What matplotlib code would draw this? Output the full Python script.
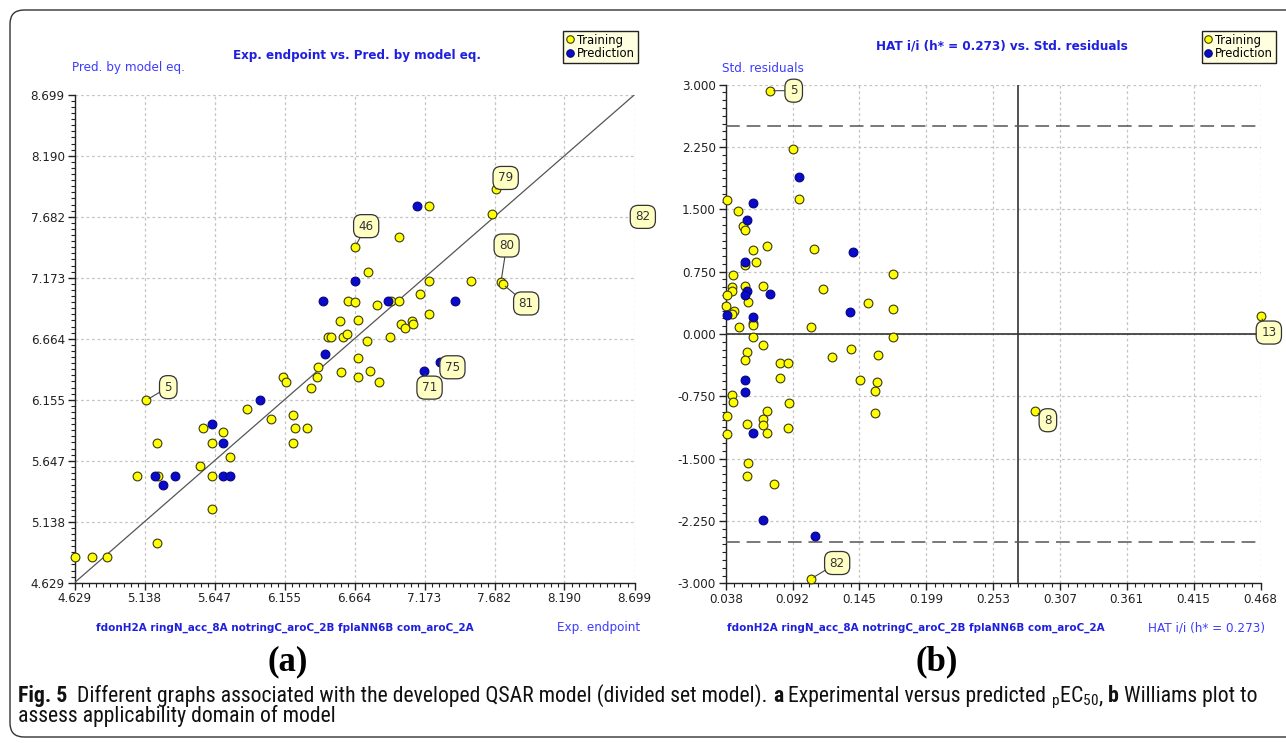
import numpy as np
import matplotlib
matplotlib.use("Agg")
import matplotlib.pyplot as plt
from matplotlib.patches import FancyBboxPatch
from matplotlib.lines import Line2D
from matplotlib.ticker import FixedLocator

# ------------------------------------------------------------------ data
# Panel (a): experimental endpoint vs predicted by model equation
exp_train = [5.149, 5.226, 5.081, 5.234, 5.226, 4.629, 4.758, 4.867, 5.541, 5.561,
             5.626, 5.626, 5.626, 5.708, 5.759, 5.885, 6.057, 6.142, 6.168, 6.219,
             6.234, 6.219, 6.321, 6.350, 6.389, 6.401, 6.565, 6.775, 6.692, 6.842,
             6.692, 6.473, 6.491, 6.583, 6.610, 6.757, 6.924, 6.559, 6.692, 7.000,
             7.033, 7.084, 7.087, 7.208, 6.825, 6.619, 6.668, 6.929, 6.990, 7.142,
             6.764, 7.208, 7.509, 7.729, 7.740, 6.668, 6.990, 7.208, 7.666, 7.692,
             8.699]
pred_train = [6.150, 5.792, 5.521, 5.521, 4.958, 4.846, 4.846, 4.846, 5.602, 5.917,
              5.792, 5.521, 5.244, 5.883, 5.675, 6.078, 5.994, 6.342, 6.305, 6.028,
              5.917, 5.792, 5.917, 6.250, 6.342, 6.430, 6.386, 6.397, 6.342, 6.305,
              6.503, 6.676, 6.676, 6.676, 6.703, 6.645, 6.676, 6.809, 6.820, 6.784,
              6.756, 6.812, 6.784, 6.872, 6.943, 6.981, 6.970, 6.981, 6.981, 7.034,
              7.223, 7.145, 7.145, 7.140, 7.120, 7.429, 7.510, 7.771, 7.707, 7.912,
              7.680]
exp_test = [5.214, 5.274, 5.359, 5.626, 5.708, 5.708, 5.759, 5.977, 6.450, 6.433,
            6.668, 6.905, 7.392, 7.169, 7.285, 7.116]
pred_test = [5.521, 5.441, 5.521, 5.955, 5.792, 5.521, 5.521, 6.150, 6.534, 6.981,
             7.145, 6.981, 6.981, 6.395, 6.472, 7.771]

# compound ids shown as call-outs: (id, series, index into that series)
a_callouts = [("5", "train", 0), ("46", "train", 55), ("79", "train", 59),
              ("80", "train", 53), ("81", "train", 54), ("82", "train", 60),
              ("71", "test", 13), ("75", "test", 14)]

# Panel (b): Williams plot (leverage vs standardized residuals)
hat_train = [0.0737, 0.0922, 0.0970, 0.0388, 0.0481, 0.0519, 0.0535, 0.0710, 0.1088, 0.0597,
             0.0535, 0.0624, 0.0441, 0.1724, 0.0428, 0.0428, 0.0535, 0.0683, 0.0388, 0.0562,
             0.1165, 0.1528, 0.1724, 0.0380, 0.0449, 0.0428, 0.0597, 0.0597, 0.0489, 0.1064,
             0.1724, 0.0597, 0.0683, 0.0554, 0.0535, 0.0817, 0.0879, 0.1238, 0.1386, 0.1608,
             0.0817, 0.1463, 0.1600, 0.1581, 0.1581, 0.0433, 0.0441, 0.0891, 0.0388, 0.0710,
             0.0683, 0.0678, 0.0554, 0.0879, 0.0388, 0.0710, 0.0559, 0.0551, 0.0771, 0.1064,
             0.2870, 0.4680]
res_train = [2.928, 2.230, 1.628, 1.616, 1.484, 1.300, 1.255, 1.063, 1.023, 1.007,
             0.826, 0.866, 0.710, 0.722, 0.569, 0.521, 0.578, 0.578, 0.469, 0.389,
             0.538, 0.377, 0.297, 0.337, 0.273, 0.241, 0.136, 0.108, 0.088, 0.088,
             -0.040, -0.032, -0.132, -0.213, -0.317, -0.345, -0.345, -0.277, -0.184, -0.249,
             -0.529, -0.557, -0.581, -0.690, -0.951, -0.730, -0.818, -0.830, -0.991, -0.923,
             -1.019, -1.095, -1.079, -1.135, -1.200, -1.188, -1.556, -1.712, -1.801, -2.948,
             -0.929, 0.218]
hat_test = [0.0970, 0.0597, 0.0554, 0.1407, 0.0535, 0.0554, 0.0535, 0.0739, 0.1380, 0.0388,
            0.0597, 0.0535, 0.0535, 0.0597, 0.0678, 0.1096]
res_test = [1.889, 1.576, 1.368, 0.983, 0.866, 0.521, 0.469, 0.485, 0.261, 0.229,
            0.201, -0.557, -0.702, -1.188, -2.242, -2.427]
b_callouts = [("5", "train", 0), ("82", "train", 59), ("8", "train", 60), ("13", "train", 61)]

h_star = 0.273
res_limit = 2.5

a_range = (4.629, 8.699)
a_ticklabels = ["4.629", "5.138", "5.647", "6.155", "6.664", "7.173", "7.682", "8.190", "8.699"]
b_xrange = (0.038, 0.468)
b_xticklabels = ["0.038", "0.092", "0.145", "0.199", "0.253", "0.307", "0.361", "0.415", "0.468"]
b_yrange = (-3.0, 3.0)
b_yticklabels = ["-3.000", "-2.250", "-1.500", "-0.750", "0.000", "0.750", "1.500", "2.250", "3.000"]

descriptors = "fdonH2A ringN_acc_8A notringC_aroC_2B fplaNN6B com_aroC_2A"
title_a = "Exp. endpoint vs. Pred. by model eq."
title_b = "HAT i/i (h* = 0.273) vs. Std. residuals"
ylabel_a, xlabel_a = "Pred. by model eq.", "Exp. endpoint"
ylabel_b, xlabel_b = "Std. residuals", "HAT i/i (h* = 0.273)"
legend_labels = ["Training", "Prediction"]

# ------------------------------------------------------------------ style
plt.rcParams["font.family"] = ["DejaVu Sans"]
plt.rcParams["font.stretch"] = "condensed"
plt.rcParams["mathtext.fontset"] = "custom"
plt.rcParams["mathtext.rm"] = "Roboto Condensed"
plt.rcParams["mathtext.it"] = "Roboto Condensed:italic"
plt.rcParams["mathtext.bf"] = "Roboto Condensed:bold"

W, H = 1286, 743
fig = plt.figure(figsize=(W / 100, H / 100), dpi=100)
fig.patch.set_facecolor("white")
renderer = fig.canvas.get_renderer()

YEL, YEL_E = "#FFFF00", "#3a3a10"
BLU, BLU_E = "#0a0acc", "#05057a"
TITLE_C = "#1f1fe0"
LAB_C = "#3c3cff"


def rect(x0, y0, x1, y1):
    return [x0 / W, 1 - y1 / H, (x1 - x0) / W, (y1 - y0) / H]


def fit_text(x, y, s, width, ha="center", size0=10, **kw):
    t = fig.text(x / W, 1 - y / H, s, ha=ha, va="center", fontsize=size0, **kw)
    w = t.get_window_extent(renderer).width
    t.set_fontsize(size0 * width / w)
    return t


def style_axes(ax, xr, yr, xlabels, ylabels, xminor_n, yminor_n):
    xt = np.linspace(xr[0], xr[1], len(xlabels))
    yt = np.linspace(yr[0], yr[1], len(ylabels))
    ax.set_xlim(*xr)
    ax.set_ylim(*yr)
    ax.set_xticks(xt)
    ax.set_xticklabels(xlabels)
    ax.set_yticks(yt)
    ax.set_yticklabels(ylabels)
    ax.xaxis.set_minor_locator(FixedLocator(np.linspace(xr[0], xr[1], (len(xlabels) - 1) * xminor_n + 1)))
    ax.yaxis.set_minor_locator(FixedLocator(np.linspace(yr[0], yr[1], (len(ylabels) - 1) * yminor_n + 1)))
    for s in ("top", "right"):
        ax.spines[s].set_visible(False)
    for s in ("left", "bottom"):
        ax.spines[s].set_linewidth(1.0)
        ax.spines[s].set_color("#222222")
    ax.grid(True, which="major", color="#c4c4c4", linestyle=(0, (2.2, 2.2)), linewidth=0.9)
    ax.tick_params(which="major", length=5, width=1.0, direction="out", labelsize=9.5,
                   colors="#222222", pad=2)
    ax.tick_params(which="minor", length=2.6, width=0.8, direction="out", colors="#222222")
    ax.set_axisbelow(True)


def callout(ax, x, y, txt, off):
    ax.annotate(txt, xy=(x, y), xytext=off, textcoords="offset points",
                ha="center", va="center", fontsize=9.5, color="#333333",
                bbox=dict(boxstyle="round,pad=0.38,rounding_size=0.6", fc="#FFFFC4",
                          ec="#333333", lw=0.9),
                arrowprops=dict(arrowstyle="-", color="#444444", lw=0.8, shrinkA=0, shrinkB=2.5),
                annotation_clip=False, zorder=8)


def scatter(ax, x, y, fc, ec):
    ax.scatter(x, y, s=40, facecolor=fc, edgecolor=ec, linewidth=0.8, zorder=4, clip_on=False)


# ------------------------------------------------------------------ panel (a)
axA = fig.add_axes(rect(74.5, 94.7, 634.5, 582.7))
style_axes(axA, a_range, a_range, a_ticklabels, a_ticklabels, 10, 10)
axA.plot(a_range, a_range, color="#555555", lw=0.9, zorder=3)
scatter(axA, exp_train, pred_train, YEL, YEL_E)
scatter(axA, exp_test, pred_test, BLU, BLU_E)
a_offsets = {"5": (16, 9.5), "46": (8, 15), "79": (7, 8), "80": (4, 26),
             "81": (17, -14), "82": (6, 0), "71": (4, -12), "75": (9, -4)}
for cid, ser, i in a_callouts:
    xs, ys = (exp_train, pred_train) if ser == "train" else (exp_test, pred_test)
    callout(axA, xs[i], ys[i], cid, a_offsets[cid])

# ------------------------------------------------------------------ panel (b)
axB = fig.add_axes(rect(725.7, 84.7, 1260.5, 583.3))
style_axes(axB, b_xrange, b_yrange, b_xticklabels, b_yticklabels, 8, 8)
axB.axhline(0, color="#333333", lw=1.2, zorder=3)
axB.axvline(h_star, color="#333333", lw=1.2, zorder=3)
for v in (res_limit, -res_limit):
    axB.axhline(v, color="#555555", lw=1.1, dashes=(9, 4.5), zorder=3)
scatter(axB, hat_train, res_train, YEL, YEL_E)
scatter(axB, hat_test, res_test, BLU, BLU_E)
b_offsets = {"5": (17, 0), "82": (19, 11.5), "8": (9, -6.5), "13": (6, -12)}
for cid, ser, i in b_callouts:
    xs, ys = (hat_train, res_train) if ser == "train" else (hat_test, res_test)
    callout(axB, xs[i], ys[i], cid, b_offsets[cid])

# ------------------------------------------------------------------ texts
fit_text(357, 56, title_a, 246, fontweight="bold", color=TITLE_C)
fit_text(1002, 46, title_b, 252, fontweight="bold", color=TITLE_C)
t_lab = fit_text(72, 68, ylabel_a, 114, ha="left", color=LAB_C)
lab_size = t_lab.get_fontsize()
fig.text(722 / W, 1 - 68 / H, ylabel_b, ha="left", va="center", fontsize=lab_size, color=LAB_C)
fit_text(96, 628, descriptors, 372, ha="left", fontweight="bold", color=TITLE_C)
fig.text(640 / W, 1 - 628 / H, xlabel_a, ha="right", va="center", fontsize=lab_size, color=LAB_C)
fit_text(727, 628, descriptors, 372, ha="left", fontweight="bold", color=TITLE_C)
fig.text(1265 / W, 1 - 628 / H, xlabel_b, ha="right", va="center", fontsize=lab_size, color=LAB_C)

fig.text(288 / W, 1 - 662 / H, "(a)", ha="center", va="center", fontsize=25,
         fontweight="bold", family="Liberation Serif", fontstretch="normal")
fig.text(937 / W, 1 - 662 / H, "(b)", ha="center", va="center", fontsize=25,
         fontweight="bold", family="Liberation Serif", fontstretch="normal")

# legends
handles = [Line2D([], [], marker="o", ls="", mfc=YEL, mec=YEL_E, ms=5.4, mew=0.8),
           Line2D([], [], marker="o", ls="", mfc=BLU, mec=BLU_E, ms=5.4, mew=0.8)]
for cx in (600.5, 1239):
    leg = fig.legend(handles, legend_labels, loc="center", bbox_to_anchor=(cx / W, 1 - 47 / H),
                     frameon=True, fancybox=False, fontsize=9.3, handlelength=0.5,
                     handletextpad=0.3, borderpad=0.22, labelspacing=0.05, borderaxespad=0)
    fr = leg.get_frame()
    fr.set_facecolor("#FFFFE0")
    fr.set_edgecolor("#222222")
    fr.set_linewidth(1.0)
    fr.set_alpha(1)

# outer rounded frame (extends past the right edge)
frame = FancyBboxPatch((0.10, 0.06), 13.2, 7.27, boxstyle="round,pad=0,rounding_size=0.14",
                       transform=fig.dpi_scale_trans, fc="none", ec="#333333", lw=1.0)
fig.patches.append(frame)

# caption with mixed weights, laid out piece by piece
cap1 = [("Fig. 5", "bold"),
        ("  Different graphs associated with the developed QSAR model (divided set model). ", "normal"),
        ("a", "bold"), (" Experimental versus predicted ", "normal"),
        (r"$_{\mathrm{p}}$EC$_{50}$", "normal"), (", ", "normal"),
        ("b", "bold"), (" Williams plot to", "normal")]
cap2 = [("assess applicability domain of model", "normal")]


def draw_line(pieces, x0, y, size):
    x = x0
    arts = []
    for s, wgt in pieces:
        t = fig.text(x / W, 1 - y / H, s, ha="left", va="baseline", fontsize=size,
                     fontweight=wgt, color="#111111", family="Roboto Condensed",
                     fontstretch="condensed")
        w = t.get_window_extent(renderer).width
        arts.append(t)
        x += w
    return x - x0, arts


w1, arts = draw_line(cap1, 18, 702, 12)
for a in arts:
    a.remove()
cap_size = 12 * (1262 - 18) / w1
draw_line(cap1, 18, 702, cap_size)
draw_line(cap2, 18, 722, cap_size)

fig.savefig("out.png", dpi=100, facecolor="white")
